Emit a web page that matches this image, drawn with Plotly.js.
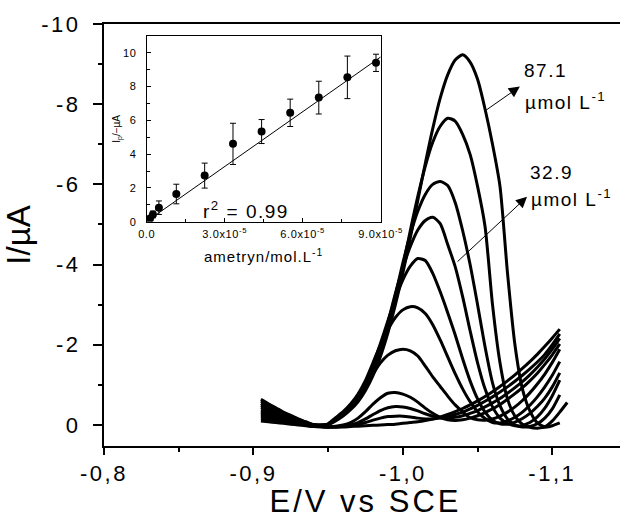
<!DOCTYPE html>
<html>
<head>
<meta charset="utf-8">
<script src="https://cdn.plot.ly/plotly-3.0.1.min.js"></script>
<style>
html, body { margin: 0; padding: 0; overflow: hidden; background: #fff; }
#chart { width: 640px; height: 519px; }
.xtick text, .ytick text { letter-spacing: 2.5px; }
.x2tick text, .y2tick text { letter-spacing: 0.6px; }
text.xtitle { letter-spacing: 3px; }
text.x2title { letter-spacing: 1px; }
.annotation-text { letter-spacing: 1.5px; }
</style>
</head>
<body>
<div id="chart"></div>
<script>
// ---- main voltammograms: potential (V vs SCE) and current (µA) ----
const potential = [-0.905,-0.910,-0.915,-0.920,-0.925,-0.930,-0.935,-0.940,-0.945,-0.950,-0.955,-0.960,-0.965,-0.970,-0.975,-0.980,-0.985,-0.990,-0.995,-1.000,-1.005,-1.010,-1.015,-1.020,-1.025,-1.030,-1.035,-1.040,-1.045,-1.050,-1.055,-1.060,-1.065,-1.070,-1.075,-1.080,-1.085,-1.090,-1.095,-1.100,-1.105,-1.110];

const blank = [-0.10,-0.08,-0.06,-0.04,-0.02,0.00,0.02,0.04,0.05,0.05,0.05,0.05,0.04,0.03,0.02,0.01,0.00,-0.01,-0.02,-0.04,-0.06,-0.08,-0.11,-0.15,-0.20,-0.26,-0.33,-0.41,-0.50,-0.60,-0.71,-0.83,-0.96,-1.10,-1.25,-1.41,-1.58,-1.76,-1.96,-2.17,-2.39,null];
const add1 = [-0.16,-0.13,-0.10,-0.07,-0.04,-0.02,0.01,0.03,0.04,0.05,0.05,0.04,0.02,-0.01,-0.06,-0.12,-0.17,-0.21,-0.22,-0.22,-0.20,-0.17,-0.15,-0.15,-0.17,-0.21,-0.26,-0.32,-0.40,-0.49,-0.59,-0.70,-0.82,-0.95,-1.09,-1.24,-1.40,-1.57,-1.76,-2.00,-2.27,null];
const add2 = [-0.22,-0.18,-0.14,-0.10,-0.07,-0.03,0.00,0.03,0.04,0.05,0.05,0.03,0.00,-0.06,-0.15,-0.26,-0.36,-0.43,-0.46,-0.45,-0.41,-0.35,-0.28,-0.22,-0.18,-0.17,-0.19,-0.23,-0.29,-0.36,-0.45,-0.55,-0.66,-0.79,-0.93,-1.08,-1.25,-1.44,-1.65,-1.89,-2.16,null];
const add3 = [-0.27,-0.22,-0.17,-0.13,-0.09,-0.05,-0.01,0.02,0.04,0.05,0.03,0.00,-0.06,-0.17,-0.33,-0.52,-0.68,-0.79,-0.81,-0.77,-0.69,-0.57,-0.42,-0.29,-0.19,-0.13,-0.11,-0.13,-0.17,-0.23,-0.31,-0.40,-0.51,-0.64,-0.78,-0.93,-1.10,-1.29,-1.51,-1.75,-2.02,null];
const add4 = [-0.32,-0.26,-0.21,-0.16,-0.11,-0.06,-0.02,0.02,0.03,-0.01,-0.12,-0.26,-0.44,-0.67,-0.96,-1.27,-1.55,-1.74,-1.85,-1.89,-1.85,-1.72,-1.47,-1.20,-0.96,-0.72,-0.50,-0.33,-0.18,-0.13,-0.12,-0.15,-0.22,-0.32,-0.45,-0.61,-0.80,-1.02,-1.27,-1.56,-1.89,null];
const add5 = [-0.37,-0.31,-0.24,-0.18,-0.13,-0.07,-0.03,0.01,0.02,-0.03,-0.18,-0.33,-0.52,-0.77,-1.11,-1.55,-2.00,-2.38,-2.68,-2.87,-2.95,-2.92,-2.78,-2.50,-2.12,-1.70,-1.28,-0.90,-0.58,-0.33,-0.16,-0.06,-0.05,-0.10,-0.19,-0.32,-0.49,-0.70,-0.95,-1.24,-1.58,null];
const add6 = [-0.43,-0.36,-0.28,-0.21,-0.15,-0.09,-0.04,0.01,0.01,-0.02,-0.16,-0.30,-0.49,-0.72,-1.05,-1.49,-2.03,-2.60,-3.15,-3.62,-3.96,-4.15,-4.10,-3.78,-3.32,-2.80,-2.25,-1.65,-1.10,-0.65,-0.32,-0.12,-0.03,-0.02,-0.07,-0.16,-0.29,-0.46,-0.67,-0.95,-1.30,null];
const add7 = [-0.48,-0.40,-0.32,-0.24,-0.17,-0.10,-0.05,0.00,0.01,-0.01,-0.14,-0.28,-0.45,-0.68,-0.98,-1.40,-1.92,-2.56,-3.28,-3.92,-4.45,-4.86,-5.10,-5.18,-5.02,-4.50,-3.95,-3.20,-2.35,-1.55,-0.90,-0.45,-0.17,-0.04,0.02,0.01,-0.06,-0.20,-0.42,-0.73,-1.12,null];
const add8 = [-0.53,-0.44,-0.35,-0.27,-0.19,-0.12,-0.06,0.00,0.01,-0.01,-0.13,-0.26,-0.43,-0.65,-0.95,-1.36,-1.87,-2.49,-3.23,-4.04,-4.75,-5.33,-5.75,-6.00,-6.07,-5.97,-5.55,-4.85,-4.00,-3.00,-1.95,-1.05,-0.48,-0.15,0.00,0.05,0.04,-0.03,-0.17,-0.40,-0.75,null];
const add9 = [-0.59,-0.49,-0.39,-0.30,-0.22,-0.14,-0.07,-0.01,0.01,-0.01,-0.12,-0.25,-0.42,-0.63,-0.92,-1.32,-1.82,-2.43,-3.15,-3.96,-4.85,-5.70,-6.45,-7.05,-7.45,-7.65,-7.58,-7.25,-6.75,-5.95,-4.95,-3.00,-1.55,-0.65,-0.22,-0.02,0.06,0.08,0.06,0.02,-0.05,null];
const add10 = [-0.64,-0.53,-0.43,-0.32,-0.24,-0.15,-0.08,-0.01,0.00,-0.01,-0.10,-0.22,-0.38,-0.58,-0.86,-1.23,-1.71,-2.30,-3.00,-3.79,-4.67,-5.60,-6.52,-7.39,-8.15,-8.73,-9.10,-9.23,-9.05,-8.62,-7.88,-7.00,-5.95,-3.80,-2.00,-0.90,-0.35,-0.05,0.04,-0.10,-0.32,-0.56];

const mainXTickVals = [-0.8, -0.9, -1.0, -1.1];
const mainXTickText = ['-0,8', '-0,9', '-1,0', '-1,1'];
const mainXMinor = [-0.85, -0.95, -1.05, -1.15];
const mainYTickVals = [-10, -8, -6, -4, -2, 0];
const mainYTickText = ['-10', '-8', '-6', '-4', '-2', '0'];
const mainYMinor = [-9, -7, -5, -3, -1];

// ---- inset: calibration plot ----
const concentration = [0.13e-5, 0.24e-5, 0.47e-5, 1.14e-5, 2.23e-5, 3.32e-5, 4.42e-5, 5.52e-5, 6.62e-5, 7.72e-5, 8.82e-5];
const peakCurrent = [0.19, 0.43, 0.83, 1.64, 2.73, 4.61, 5.34, 6.45, 7.35, 8.55, 9.41];
const peakError = [0.10, 0.20, 0.40, 0.58, 0.74, 1.22, 0.71, 0.81, 0.97, 1.26, 0.51];
const fitX = [0, 9.0e-5];
const fitY = [0.02, 9.76];
const insetXTickVals = [0, 3e-5, 6e-5, 9e-5];
const insetXTickText = ['0.0', '3.0x10<sup>-5</sup>', '6.0x10<sup>-5</sup>', '9.0x10<sup>-5</sup>'];
const insetXMinor = [1.5e-5, 4.5e-5, 7.5e-5];
const insetYTickVals = [0, 2, 4, 6, 8, 10];
const insetYMinor = [1, 3, 5, 7, 9];

// ---- labels ----
const labelHigh = '87.1';
const labelLow = '32.9';
const unitText = 'µmol L<sup>-1</sup>';

const FONT = 'Liberation Sans, Arial, Helvetica, sans-serif';
const curves = [blank, add1, add2, add3, add4, add5, add6, add7, add8, add9, add10];

const traces = curves.map((c, k) => ({
  x: potential, y: c, type: 'scatter', mode: 'lines',
  name: 'curve ' + k,
  line: { color: '#000', width: 3, shape: 'spline', smoothing: 0.7 },
  connectgaps: false, showlegend: false, hoverinfo: 'skip'
}));

traces.push({
  x: fitX, y: fitY, xaxis: 'x2', yaxis: 'y2', type: 'scatter', mode: 'lines',
  line: { color: '#000', width: 1 }, showlegend: false, hoverinfo: 'skip'
});
traces.push({
  x: concentration, y: peakCurrent, xaxis: 'x2', yaxis: 'y2', type: 'scatter', mode: 'markers',
  marker: { color: '#000', size: 8 },
  error_y: { type: 'data', array: peakError, visible: true, color: '#000', thickness: 1, width: 3 },
  showlegend: false, hoverinfo: 'skip'
});

const layout = {
  width: 640, height: 519,
  margin: { l: 104, r: 13, t: 24, b: 73 },
  paper_bgcolor: '#fff', plot_bgcolor: '#fff',
  font: { family: FONT, color: '#000' },
  showlegend: false,
  xaxis: {
    range: [-0.8, -1.15], tickmode: 'array', tickvals: mainXTickVals, ticktext: mainXTickText,
    ticks: 'outside', ticklen: 7, tickwidth: 2, tickcolor: '#000',
    minor: { tickmode: 'array', tickvals: mainXMinor, ticks: 'outside', ticklen: 4, tickwidth: 2, tickcolor: '#000', showgrid: false },
    showline: true, linewidth: 2, linecolor: '#000', mirror: true,
    showgrid: false, zeroline: false,
    tickfont: { size: 22, family: FONT, color: '#000' },
    title: { text: 'E/V vs SCE', font: { size: 31, family: FONT, color: '#000' }, standoff: 2 }
  },
  yaxis: {
    range: [0.525, -10], tickmode: 'array', tickvals: mainYTickVals, ticktext: mainYTickText,
    ticks: 'outside', ticklen: 9, tickwidth: 2, tickcolor: '#000', ticklabelstandoff: 8,
    minor: { tickmode: 'array', tickvals: mainYMinor, ticks: 'outside', ticklen: 4, tickwidth: 2, tickcolor: '#000', showgrid: false },
    showline: true, linewidth: 2, linecolor: '#000', mirror: true,
    showgrid: false, zeroline: false,
    tickfont: { size: 22, family: FONT, color: '#000' },
    title: { text: 'I/µA', font: { size: 33, family: FONT, color: '#000' }, standoff: 6 }
  },
  xaxis2: {
    domain: [0.0816, 0.529], anchor: 'y2', range: [0, 9e-5],
    tickmode: 'array', tickvals: insetXTickVals, ticktext: insetXTickText,
    ticks: 'inside', ticklen: 4, tickwidth: 1, tickcolor: '#000', ticklabelstandoff: 2,
    minor: { tickmode: 'array', tickvals: insetXMinor, ticks: 'inside', ticklen: 3, tickwidth: 1, tickcolor: '#000', showgrid: false },
    showline: true, linewidth: 1, linecolor: '#000', mirror: true,
    showgrid: false, zeroline: false,
    tickfont: { size: 11, family: FONT, color: '#000' },
    title: { text: 'ametryn/mol.L<sup>-1</sup>', font: { size: 15, family: FONT, color: '#000' }, standoff: 12 }
  },
  yaxis2: {
    domain: [0.5315, 0.9716], anchor: 'x2', range: [0, 11],
    tickmode: 'array', tickvals: insetYTickVals,
    ticks: 'inside', ticklen: 4, tickwidth: 1, tickcolor: '#000', ticklabelstandoff: 7,
    minor: { tickmode: 'array', tickvals: insetYMinor, ticks: 'inside', ticklen: 3, tickwidth: 1, tickcolor: '#000', showgrid: false },
    showline: true, linewidth: 1, linecolor: '#000', mirror: true,
    showgrid: false, zeroline: false,
    tickfont: { size: 11, family: FONT, color: '#000' },
    title: { text: 'I<sub>p</sub>/−µA', font: { size: 10, family: FONT, color: '#000' }, standoff: 0 }
  },
  annotations: [
    { xref: 'x2', yref: 'y2', x: 3.82e-5, y: 0.69, text: 'r<sup>2</sup> = 0.99', showarrow: false,
      font: { size: 19, family: FONT, color: '#000' }, xanchor: 'center', yanchor: 'middle' },
    { xref: 'x', yref: 'y', x: -1.0796, y: -8.85, text: labelHigh, showarrow: false,
      font: { size: 19, family: FONT, color: '#000' }, xanchor: 'left', yanchor: 'middle' },
    { xref: 'x', yref: 'y', x: -1.0803, y: -8.08, text: unitText, showarrow: false,
      font: { size: 19, family: FONT, color: '#000' }, xanchor: 'left', yanchor: 'middle' },
    { xref: 'x', yref: 'y', x: -1.0838, y: -6.30, text: labelLow, showarrow: false,
      font: { size: 19, family: FONT, color: '#000' }, xanchor: 'left', yanchor: 'middle' },
    { xref: 'x', yref: 'y', x: -1.0845, y: -5.66, text: unitText, showarrow: false,
      font: { size: 19, family: FONT, color: '#000' }, xanchor: 'left', yanchor: 'middle' },
    { xref: 'x', yref: 'y', axref: 'x', ayref: 'y', x: -1.0783, y: -8.44, ax: -1.0549, ay: -7.83,
      text: '', showarrow: true, arrowhead: 2, arrowsize: 2.2, arrowwidth: 1, arrowcolor: '#000', standoff: 0, startstandoff: 0 },
    { xref: 'x', yref: 'y', axref: 'x', ayref: 'y', x: -1.0831, y: -5.69, ax: -1.0356, ay: -4.04,
      text: '', showarrow: true, arrowhead: 2, arrowsize: 2.2, arrowwidth: 1, arrowcolor: '#000', standoff: 0, startstandoff: 0 }
  ]
};

Plotly.newPlot('chart', traces, layout, { staticPlot: true, displayModeBar: false });
</script>
</body>
</html>
